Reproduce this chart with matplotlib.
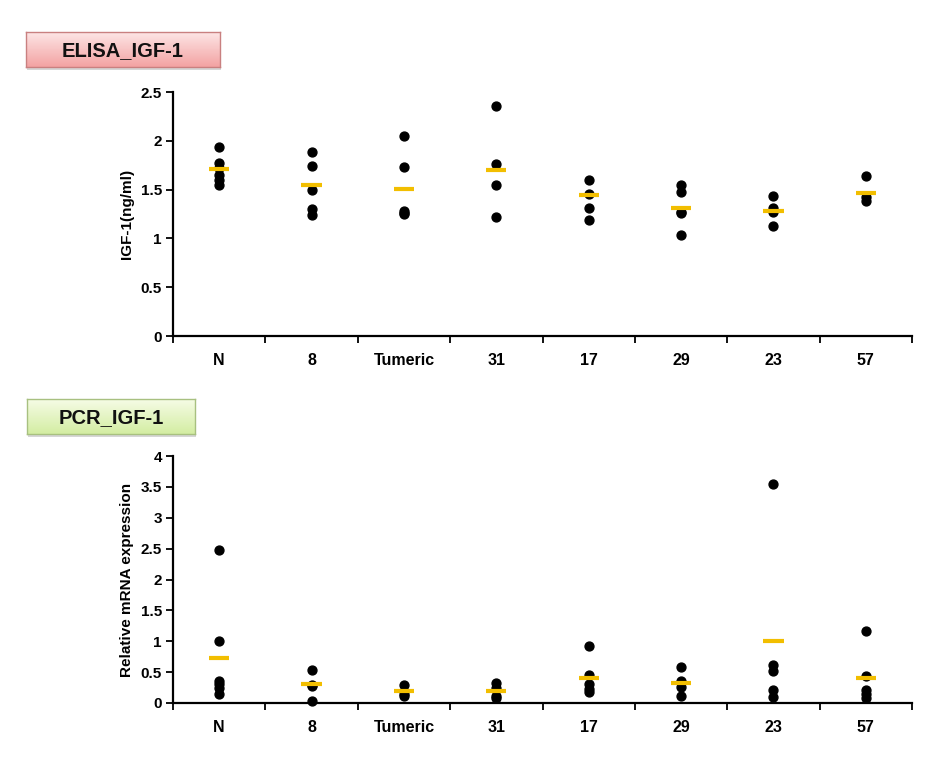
import numpy as np
import matplotlib
matplotlib.use("Agg")
import matplotlib.pyplot as plt
from matplotlib.patches import Rectangle
from matplotlib.colors import LinearSegmentedColormap

categories = ["N", "8", "Tumeric", "31", "17", "29", "23", "57"]

elisa_points = [
    [1.94, 1.77, 1.72, 1.65, 1.60, 1.55],
    [1.89, 1.745, 1.50, 1.30, 1.24],
    [2.05, 1.735, 1.28, 1.26, 1.25],
    [2.36, 1.76, 1.55, 1.22],
    [1.60, 1.46, 1.31, 1.19],
    [1.55, 1.48, 1.27, 1.26, 1.03],
    [1.43, 1.31, 1.27, 1.13],
    [1.64, 1.42, 1.38],
]
elisa_means = [1.71, 1.55, 1.51, 1.70, 1.44, 1.31, 1.28, 1.47]

pcr_points = [
    [2.48, 1.005, 0.36, 0.30, 0.25, 0.14],
    [0.54, 0.29, 0.28, 0.04],
    [0.29, 0.14, 0.12],
    [0.33, 0.25, 0.12, 0.08],
    [0.92, 0.45, 0.30, 0.23, 0.18],
    [0.59, 0.35, 0.26, 0.11],
    [3.54, 0.62, 0.52, 0.21, 0.10],
    [1.17, 0.43, 0.21, 0.15, 0.08],
]
pcr_means = [0.73, 0.30, 0.195, 0.195, 0.41, 0.33, 1.005, 0.41]

elisa_yticks = [0, 0.5, 1, 1.5, 2, 2.5]
elisa_yticklabels = ["0", "0.5", "1", "1.5", "2", "2.5"]
pcr_yticks = [0, 0.5, 1, 1.5, 2, 2.5, 3, 3.5, 4]
pcr_yticklabels = ["0", "0.5", "1", "1.5", "2", "2.5", "3", "3.5", "4"]

plt.rcParams["font.family"] = ["Liberation Sans", "DejaVu Sans"]

W, H = 941, 764
fig = plt.figure(figsize=(W / 100, H / 100), dpi=100)
fig.patch.set_facecolor("white")


def fx(px):
    return px / W


def fy(py):
    return 1 - py / H


def panel(rect, points, means, yticks, yticklabels, ylim, ylabel):
    ax = fig.add_axes(rect)
    n = len(categories)
    centers = np.arange(n) + 0.5
    for i, pts in enumerate(points):
        ax.plot([centers[i]] * len(pts), pts, "o", color="black",
                markersize=6.4, zorder=3, clip_on=False)
    for i, m in enumerate(means):
        ax.plot([centers[i] - 0.11, centers[i] + 0.11], [m, m],
                color="#f2be00", lw=3, solid_capstyle="butt", zorder=4)
    ax.set_xlim(0, n)
    ax.set_ylim(*ylim)
    for s in ["top", "right"]:
        ax.spines[s].set_visible(False)
    for s in ["left", "bottom"]:
        ax.spines[s].set_linewidth(1.6)
        ax.spines[s].set_color("black")
    ax.set_yticks(yticks)
    ax.set_yticklabels(yticklabels, fontsize=11, fontweight="bold")
    ax.tick_params(axis="y", direction="out", length=5, width=1.3, pad=3)
    ax.set_xticks(centers)
    ax.set_xticklabels(categories, fontsize=11.5, fontweight="bold")
    ax.tick_params(axis="x", which="major", length=0, pad=12)
    ax.set_xticks(np.arange(n + 1), minor=True)
    ax.tick_params(axis="x", which="minor", direction="out", length=5, width=1.3)
    ax.set_ylabel(ylabel, fontsize=11, fontweight="bold", labelpad=5)
    return ax


panel([fx(173), fy(336), fx(912 - 173), (336 - 92) / H],
      elisa_points, elisa_means, elisa_yticks, elisa_yticklabels, (0, 2.5),
      "IGF-1(ng/ml)")
panel([fx(173), fy(703), fx(912 - 173), (703 - 456) / H],
      pcr_points, pcr_means, pcr_yticks, pcr_yticklabels, (0, 4),
      "Relative mRNA expression")


def title_box(x0, y0, x1, y1, top_col, bot_col, edge, text):
    sh = fig.add_axes([fx(x0 + 1), fy(y1 + 3), fx(x1 - x0), (y1 - y0) / H])
    sh.set_axis_off()
    sh.add_patch(Rectangle((0, 0), 1, 1, transform=sh.transAxes,
                           facecolor="#bbbbbb", edgecolor="none", alpha=0.6))
    bx = fig.add_axes([fx(x0), fy(y1), fx(x1 - x0), (y1 - y0) / H])
    cmap = LinearSegmentedColormap.from_list("g", [top_col, bot_col])
    grad = np.linspace(0, 1, 64).reshape(-1, 1)
    bx.imshow(grad, cmap=cmap, aspect="auto", extent=(0, 1, 0, 1), origin="upper")
    bx.set_xlim(0, 1)
    bx.set_ylim(0, 1)
    bx.set_xticks([])
    bx.set_yticks([])
    for s in bx.spines.values():
        s.set_color(edge)
        s.set_linewidth(1.0)
    bx.text(0.5, 0.48, text, ha="center", va="center", fontsize=14.5,
            fontweight="bold", color="#111111", transform=bx.transAxes)


title_box(26, 32, 220, 67, "#fde6e6", "#f3a2a2", "#c98080", "ELISA_IGF-1")
title_box(27, 399, 195, 434, "#f6fce6", "#d3eda2", "#a8c080", "PCR_IGF-1")

fig.savefig("out.png", dpi=100, facecolor="white")
